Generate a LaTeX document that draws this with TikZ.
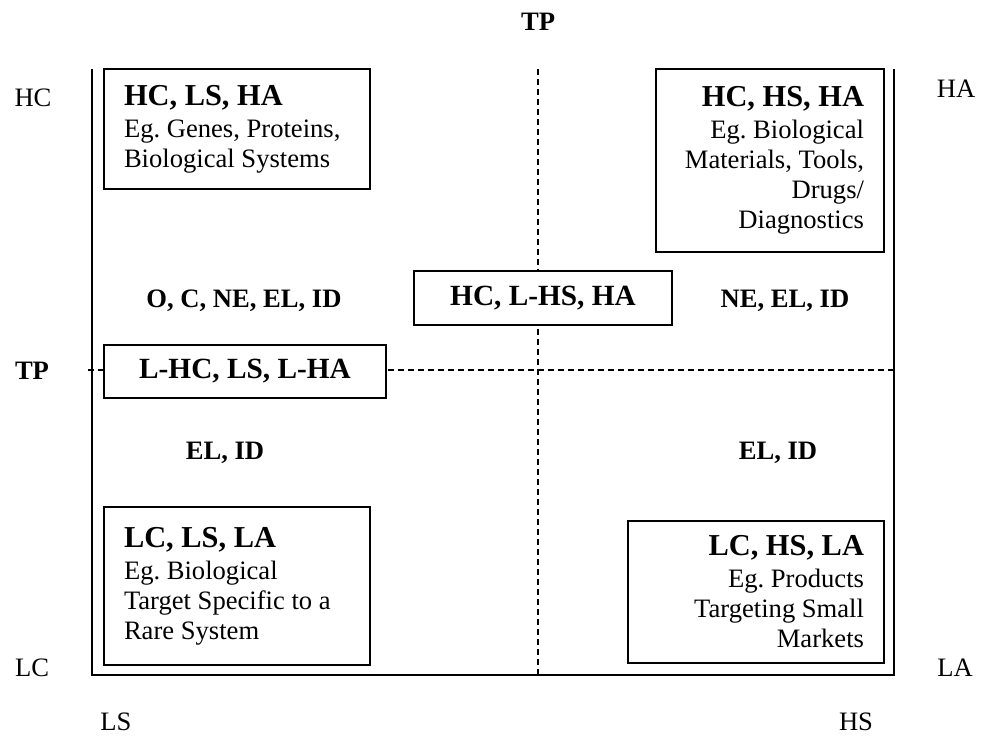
\documentclass[tikz,border=0pt]{standalone}
\usepackage{fontspec}
\setmainfont{Liberation Serif}
\frenchspacing
\newcommand{\bodyfont}{\fontsize{13.3}{15}\selectfont}
\newcommand{\headfont}{\fontsize{15.2}{15}\selectfont\bfseries}
\newcommand{\midfont}{\fontsize{14.65}{15}\selectfont\bfseries}
\begin{document}
\begin{tikzpicture}[x=0.5pt, y=-0.5pt, font=\bodyfont, axis/.style={line width=1pt}, guide/.style={line width=0.75pt, dash pattern=on 3pt off 2pt}, box/.style={draw, line width=0.85pt, fill=white, inner ysep=0pt, inner xsep=10pt}, midbox/.style={draw, line width=0.85pt, fill=white, font=\midfont, inner sep=0pt}, tag/.style={anchor=base, inner sep=0pt}, zone/.style={anchor=base, inner sep=0pt, font=\bodyfont\bfseries}]
	\useasboundingbox (0,0) rectangle (981,736);
	% frame and the two threshold lines
	\draw[axis] (92,69) -- (92,675) -- (894,675) -- (894,69);
	\draw[guide] (538,69) -- (538,675);
	\draw[guide] (88,370) -- (894,370);
	% axis labels
	\node[zone] (tptop) at (538,30) {TP};
	\node[zone] (tpleft) at (32,379) {TP};
	\node[tag] (hc) at (33,106) {HC};
	\node[tag] (lc) at (32,676) {LC};
	\node[tag] (ha) at (956,97) {HA};
	\node[tag] (la) at (955,676) {LA};
	\node[tag] (ls) at (116,730) {LS};
	\node[tag] (hs) at (856,730) {HS};
	% quadrant boxes
	\node[box, text width=113pt, minimum height=60pt, align=flush left] (hclsha) at (237,129) {{\headfont HC, LS, HA}\\[1pt]Eg. Genes, Proteins,\\Biological Systems};
	\node[box, text width=94pt, minimum height=91.5pt, align=flush right] (hchsha) at (770,160.5) {{\headfont HC, HS, HA}\\[1pt]Eg. Biological\\Materials, Tools,\\Drugs/\\Diagnostics};
	\node[box, text width=113pt, minimum height=79pt, align=flush left] (lclsla) at (237,586) {{\headfont LC, LS, LA}\\[1pt]Eg. Biological\\Target Specific to a\\Rare System};
	\node[box, text width=108pt, minimum height=71pt, align=flush right] (lchsla) at (756,592) {{\headfont LC, HS, LA}\\[1pt]Eg. Products\\Targeting Small\\Markets};
	% boxes on the threshold lines
	\node[midbox, minimum width=129pt, minimum height=27pt] (hclhsha) at (543,298) {HC, L-HS, HA};
	\node[midbox, minimum width=141pt, minimum height=26.5pt] (lhclslha) at (245,371.5) {L-HC, LS, L-HA};
	% zone labels
	\node[zone] (zonetl) at (244,307) {O, C, NE, EL, ID};
	\node[zone] (zonetr) at (785,307) {NE, EL, ID};
	\node[zone] (zonebl) at (225,459) {EL, ID};
	\node[zone] (zonebr) at (778,459) {EL, ID};
\end{tikzpicture}
\end{document}
